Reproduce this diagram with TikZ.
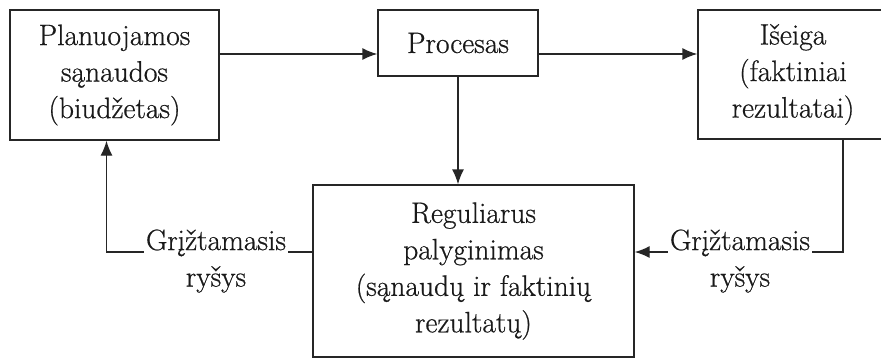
\documentclass[tikz,border=0pt]{standalone}
\usepackage{fontspec}
\setmainfont{Latin Modern Roman}[RawFeature={embolden=0.6}]
\usetikzlibrary{arrows.meta}
\begin{document}
\begin{tikzpicture}[x=1pt,y=-1pt,
  txt/.style={font=\fontsize{29.5}{36.5}\selectfont, align=center, text=black!90},
  blk/.style={txt, draw=black!85, line width=1.4pt, inner sep=0pt},
  conn/.style={draw=black!85, line width=1.4pt, -{Latex[length=15pt,width=12pt]}},
  lbl/.style={txt, fill=white, inner sep=1.5pt}]
  \fill[white] (0,0) rectangle (881,360);
  \useasboundingbox (0,0) rectangle (881,360);

  \node[blk, minimum width=209pt, minimum height=130pt] (plan) at (114.5,75)
    {Planuojamos\\sąnaudos\\(biudžetas)};
  \node[blk, minimum width=160pt, minimum height=66pt] (proc) at (458,43) {Procesas};
  \node[blk, minimum width=190pt, minimum height=129pt] (out) at (793,74.5)
    {Išeiga\\(faktiniai\\rezultatai)};
  \node[blk, minimum width=321pt, minimum height=172pt] (reg) at (473.5,271)
    {Reguliarus\\palyginimas\\(sąnaudų ir faktinių\\rezultatų)};

  \draw[conn] ([yshift=21pt]plan.east) -- ([yshift=-11pt]proc.west);
  \draw[conn] ([yshift=-11pt]proc.east) -- ([yshift=20.5pt]out.west);
  \draw[conn] (proc.south) -- (proc.south |- reg.north);
  \draw[conn] ([yshift=19pt]reg.west) -| ([xshift=-8pt]plan.south);
  \draw[conn] ([xshift=50pt]out.south) |- ([yshift=19pt]reg.east);

  \node[lbl] (fbl) at (216,261) {Grįžtamasis\\ryšys};
  \node[lbl] (fbr) at (740,261) {Grįžtamasis\\ryšys};
\end{tikzpicture}
\end{document}
